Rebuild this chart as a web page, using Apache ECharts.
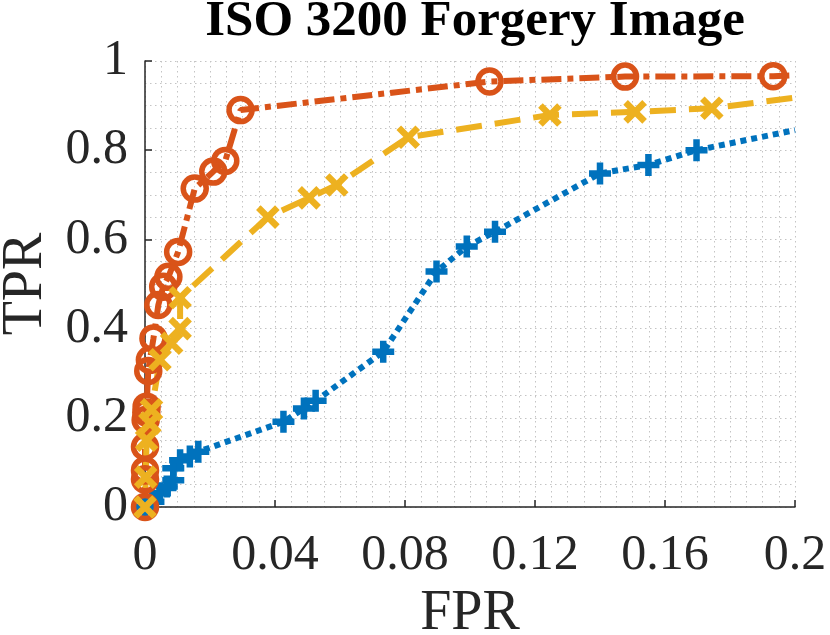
<!DOCTYPE html>
<html>
<head>
<meta charset="utf-8">
<script src="https://cdn.jsdelivr.net/npm/echarts@6/dist/echarts.min.js"></script>
<style>
html,body{margin:0;padding:0;background:#fff;}
#chart{width:830px;height:635px;}
</style>
</head>
<body>
<div id="chart"></div>
<script>
// ---- data ----
var titleText = 'ISO 3200 Forgery Image';
var xAxisName = 'FPR';
var yAxisName = 'TPR';
var xTicks = [0, 0.04, 0.08, 0.12, 0.16, 0.2];
var yTicks = [0, 0.2, 0.4, 0.6, 0.8, 1];

var blueX = [0, 0.0026, 0.0046, 0.0067, 0.0087, 0.0087, 0.0108, 0.0138, 0.0164, 0.0426, 0.0489, 0.0525, 0.0733, 0.0897, 0.0990, 0.1077, 0.1400, 0.1549, 0.1697, 0.2000];
var blueY = [0, 0.012, 0.031, 0.046, 0.060, 0.087, 0.105, 0.113, 0.124, 0.191, 0.221, 0.238, 0.348, 0.528, 0.584, 0.617, 0.748, 0.767, 0.800, 0.845];

var redX = [0, 0.0000, 0.0000, 0.0000, 0.0002, 0.0004, 0.0005, 0.0010, 0.0015, 0.0026, 0.0041, 0.0056, 0.0072, 0.0102, 0.0153, 0.0210, 0.0247, 0.0294, 0.1060, 0.1477, 0.1933, 0.2000];
var redY = [0, 0.062, 0.082, 0.135, 0.195, 0.212, 0.225, 0.305, 0.330, 0.378, 0.453, 0.494, 0.516, 0.572, 0.714, 0.752, 0.776, 0.890, 0.954, 0.965, 0.966, 0.968];

var yellowX = [0, 0.0002, 0.0005, 0.0015, 0.0020, 0.0046, 0.0082, 0.0108, 0.0108, 0.0378, 0.0505, 0.0590, 0.0810, 0.1246, 0.1508, 0.1744, 0.2000];
var yellowY = [0, 0.067, 0.150, 0.188, 0.218, 0.330, 0.367, 0.400, 0.469, 0.650, 0.693, 0.722, 0.829, 0.879, 0.886, 0.894, 0.918];

var colors = {blue: '#0072BD', red: '#D95319', yellow: '#EDB120'};

function zip(xs, ys) {
  var out = [];
  for (var i = 0; i < xs.length; i++) {
    var item = {value: [xs[i], ys[i]]};
    if (xs[i] >= 0.2) item.symbol = 'none';
    out.push(item);
  }
  return out;
}

var serif = 'Liberation Serif';
var chart = echarts.init(document.getElementById('chart'), null, {renderer: 'canvas'});

var gridLine = {show: true, lineStyle: {type: [1.5, 3.5], color: '#c4c4c4', width: 1}};

chart.setOption({
  animation: false,
  backgroundColor: '#fff',
  title: {
    text: titleText,
    left: 470,
    textAlign: 'center',
    top: -9,
    textStyle: {fontFamily: serif, fontWeight: 'bold', fontSize: 51, color: '#000'}
  },
  grid: {left: 145, top: 61, right: 35, bottom: 128, containLabel: false, outerBoundsMode: 'none'},
  xAxis: {
    type: 'value', min: xTicks[0], max: xTicks[xTicks.length - 1], interval: 0.04,
    name: xAxisName, nameLocation: 'middle', nameGap: 74,
    nameTextStyle: {fontFamily: serif, fontSize: 56, color: '#262626'},
    axisLine: {show: true, onZero: false, lineStyle: {color: '#262626', width: 1.5}},
    axisTick: {show: true, inside: true, length: 7, lineStyle: {color: '#262626', width: 1.5}},
    axisLabel: {fontFamily: serif, fontSize: 50, color: '#262626', margin: 24,
      formatter: function (v) { return String(+v.toFixed(2)); }},
    splitLine: gridLine,
    minorTick: {show: false, splitNumber: 8},
    minorSplitLine: gridLine
  },
  yAxis: {
    type: 'value', min: yTicks[0], max: yTicks[yTicks.length - 1], interval: 0.2,
    name: yAxisName, nameLocation: 'middle', nameGap: 91,
    nameTextStyle: {fontFamily: serif, fontSize: 56, color: '#262626'},
    axisLine: {show: true, onZero: false, lineStyle: {color: '#262626', width: 1.5}},
    axisTick: {show: true, inside: true, length: 7, lineStyle: {color: '#262626', width: 1.5}},
    axisLabel: {fontFamily: serif, fontSize: 50, color: '#262626', margin: 17,
      formatter: function (v) { return String(+v.toFixed(1)); }},
    splitLine: gridLine,
    minorTick: {show: false, splitNumber: 4},
    minorSplitLine: gridLine
  },
  series: [
    {
      type: 'line', clip: false, data: zip(blueX, blueY),
      symbol: 'path://M5 0L5 10M0 5L10 5', symbolSize: 22,
      itemStyle: {color: colors.blue, borderColor: colors.blue, borderWidth: 6.5},
      lineStyle: {color: colors.blue, width: 6, type: [6, 5]}
    },
    {
      type: 'line', clip: false, data: zip(redX, redY),
      symbol: 'circle', symbolSize: 23,
      itemStyle: {color: 'rgba(0,0,0,0)', borderColor: colors.red, borderWidth: 5.5},
      lineStyle: {color: colors.red, width: 6, type: [20, 6, 6, 6]}
    },
    {
      type: 'line', clip: false, data: zip(yellowX, yellowY),
      symbol: 'path://M0 0L10 10M10 0L0 10', symbolSize: 19,
      itemStyle: {color: colors.yellow, borderColor: colors.yellow, borderWidth: 6.5},
      lineStyle: {color: colors.yellow, width: 6, type: [26, 13]}
    }
  ]
});
</script>
</body>
</html>
